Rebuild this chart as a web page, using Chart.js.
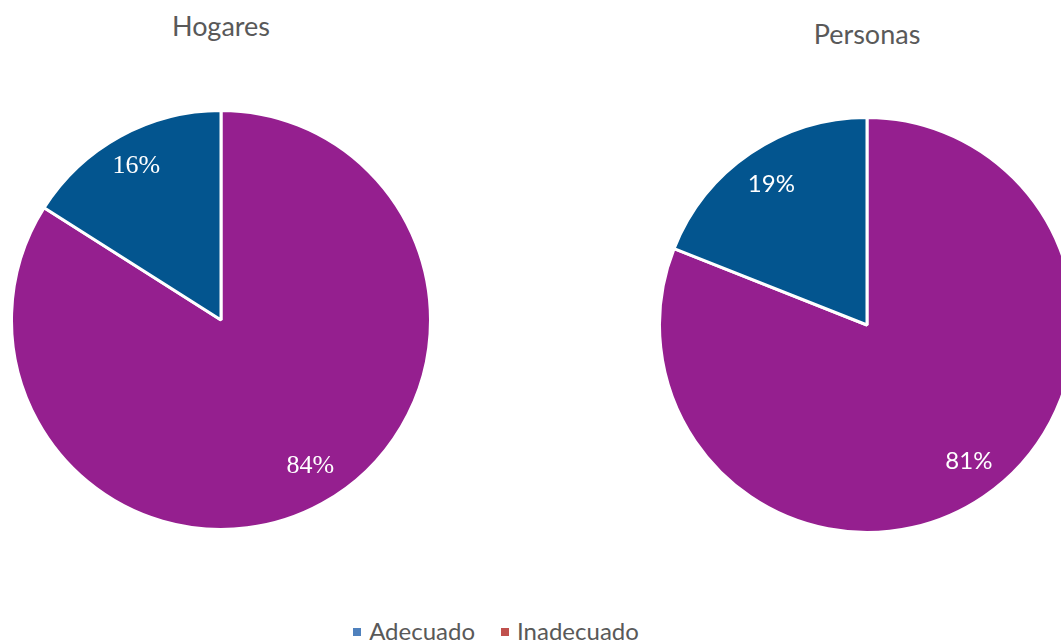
<!DOCTYPE html>
<html>
<head>
<meta charset="utf-8">
<script src="https://cdn.jsdelivr.net/npm/chart.js@4.4.0/dist/chart.umd.min.js"></script>
<style>
  html, body { margin: 0; padding: 0; background: #fff; width: 1061px; height: 642px; overflow: hidden; }
  body { position: relative; font-family: Lato, sans-serif; color: #595959; }
  .title { position: absolute; font-size: 27px; text-align: center; width: 300px; }
  .box { position: absolute; }
  #legend { position: absolute; top: 616px; left: 0; width: 992px; text-align: center; font-size: 24px; }
  #legend span.item { margin: 0 13px; white-space: nowrap; }
  #legend span.sw { display: inline-block; width: 8px; height: 8px; margin-right: 8px; vertical-align: 4px; }
</style>
</head>
<body>
<div class="title" id="t1" style="left:71px; top:9px;"></div>
<div class="title" id="t2" style="left:717px; top:17px;"></div>
<div class="box" style="left:10px; top:109px; width:422px; height:422px;"><canvas id="hogares"></canvas></div>
<div class="box" style="left:658px; top:116px; width:418px; height:418px;"><canvas id="personas"></canvas></div>
<div id="legend"></div>
<script>
var categories = ['Adecuado', 'Inadecuado'];
var titles = ['Hogares', 'Personas'];
var hogares = [84, 16];
var personas = [81, 19];
var sliceColors = ['#951f8f', '#03558f'];
var legendColors = ['#4f81bd', '#c0504d'];

// draws the % labels inside each slice
var sliceLabels = {
  id: 'sliceLabels',
  afterDatasetsDraw: function(chart, args, opts) {
    var ctx = chart.ctx;
    var arcs = chart.getDatasetMeta(0).data;
    var values = chart.data.datasets[0].data;
    ctx.save();
    ctx.fillStyle = '#fff';
    ctx.font = opts.font;
    ctx.textAlign = 'center';
    ctx.textBaseline = 'middle';
    arcs.forEach(function(arc, i) {
      var mid = (arc.startAngle + arc.endAngle) / 2 + opts.shift[i];
      var r = arc.outerRadius * opts.dist[i];
      ctx.fillText(values[i] + '%', arc.x + Math.cos(mid) * r, arc.y + Math.sin(mid) * r);
    });
    ctx.restore();
  }
};

function drawPie(id, values, labelFont, dist) {
  var el = document.getElementById(id).getContext('2d');
  return new Chart(el, {
    type: 'pie',
    data: {
      labels: categories,
      datasets: [{
        data: values,
        backgroundColor: sliceColors,
        borderColor: '#fff',
        borderWidth: 3
      }]
    },
    options: {
      responsive: true,
      maintainAspectRatio: false,
      animation: false,
      layout: { padding: 0 },
      plugins: {
        legend: { display: false },
        tooltip: { enabled: false },
        sliceLabels: { font: labelFont, dist: dist, shift: [-0.045, 0] }
      }
    },
    plugins: [sliceLabels]
  });
}

document.getElementById('t1').textContent = titles[0];
document.getElementById('t2').textContent = titles[1];
drawPie('hogares', hogares, '26px "Liberation Serif", serif', [0.82, 0.84]);
drawPie('personas', personas, '24px Lato, sans-serif', [0.82, 0.82]);

var legend = document.getElementById('legend');
categories.forEach(function(c, i) {
  var item = document.createElement('span');
  item.className = 'item';
  var sw = document.createElement('span');
  sw.className = 'sw';
  sw.style.background = legendColors[i];
  item.appendChild(sw);
  item.appendChild(document.createTextNode(c));
  legend.appendChild(item);
});
</script>
</body>
</html>
